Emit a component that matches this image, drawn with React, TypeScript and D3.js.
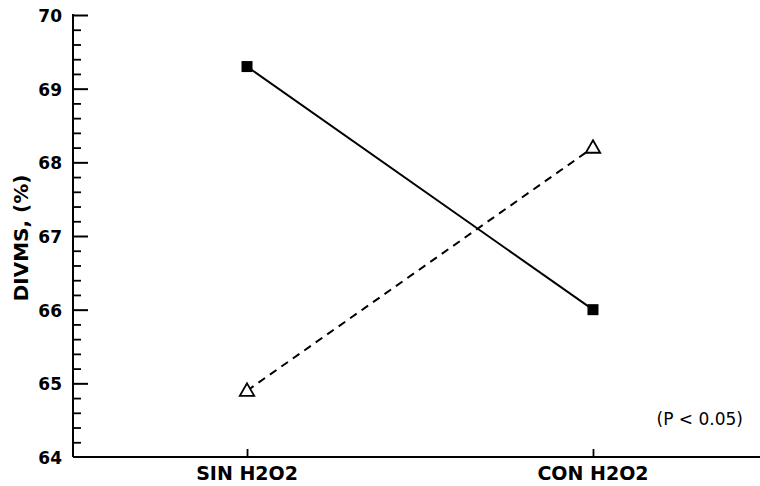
import { useEffect, useRef } from "react";
import * as d3 from "d3";

const categories = ["SIN H2O2", "CON H2O2"];
const solidValues = [69.3, 66.0];
const dashedValues = [64.9, 68.2];
const yTicks = [64, 65, 66, 67, 68, 69, 70];
const yLabel = "DIVMS, (%)";
const note = "(P < 0.05)";

export default function App() {
  const ref = useRef<SVGSVGElement>(null);

  useEffect(() => {
    const svg = d3.select(ref.current);
    svg.selectAll("*").remove();

    const width = 760;
    const height = 486;
    const margin = { top: 15, left: 73, bottom: 29 };

    const y = d3
      .scaleLinear()
      .domain([64, 70])
      .range([height - margin.bottom, margin.top]);

    const x = d3
      .scalePoint<string>()
      .domain(categories)
      .range([margin.left, 767])
      .padding(0.503);

    const font = "'DejaVu Sans', sans-serif";

    // y axis: minor ticks every 0.2, major every 1
    const minor = d3
      .range(64, 70.001, 0.2)
      .filter((v) => Math.abs(v - Math.round(v)) > 0.01);

    const minorAxis = svg
      .append("g")
      .attr("transform", `translate(${margin.left},0)`)
      .call(
        d3
          .axisRight(y)
          .tickValues(minor)
          .tickSize(8)
          .tickSizeOuter(0)
          .tickFormat(() => "")
      );
    minorAxis.select(".domain").remove();
    minorAxis.selectAll("line").attr("stroke", "#000").attr("stroke-width", 1.8);

    const majorAxis = svg
      .append("g")
      .attr("transform", `translate(${margin.left},0)`)
      .call(
        d3
          .axisRight(y)
          .tickValues(yTicks.filter((d) => d !== 64))
          .tickSize(15)
          .tickSizeOuter(0)
          .tickFormat(() => "")
      );
    majorAxis.select(".domain").remove();
    majorAxis.selectAll("line").attr("stroke", "#000").attr("stroke-width", 2);

    const yLine = svg.append("g").attr("transform", `translate(${margin.left},0)`);
    yLine
      .append("line")
      .attr("y1", y(70) - 1)
      .attr("y2", y(64))
      .attr("stroke", "#000")
      .attr("stroke-width", 2);

    yLine
      .selectAll("text")
      .data(yTicks)
      .join("text")
      .attr("x", -11)
      .attr("y", (d) => y(d) + 7)
      .attr("text-anchor", "end")
      .attr("font-family", font)
      .attr("font-weight", "bold")
      .attr("font-size", 17)
      .text((d) => d);

    svg
      .append("text")
      .attr("transform", `translate(28,${(y(64) + y(70)) / 2 + 2}) rotate(-90)`)
      .attr("text-anchor", "middle")
      .attr("font-family", font)
      .attr("font-weight", "bold")
      .attr("font-size", 20)
      .text(yLabel);

    // x axis
    const xAxis = svg
      .append("g")
      .attr("transform", `translate(0,${y(64)})`)
      .call(d3.axisTop(x).tickSize(8).tickSizeOuter(0).tickFormat(() => ""));
    xAxis.select(".domain").remove();
    xAxis.selectAll("line").attr("stroke", "#000").attr("stroke-width", 1.8);

    svg
      .append("line")
      .attr("x1", margin.left)
      .attr("x2", width)
      .attr("y1", y(64))
      .attr("y2", y(64))
      .attr("stroke", "#000")
      .attr("stroke-width", 2);

    svg
      .append("g")
      .selectAll("text")
      .data(categories)
      .join("text")
      .attr("x", (d) => x(d)!)
      .attr("y", 480)
      .attr("text-anchor", "middle")
      .attr("font-family", font)
      .attr("font-weight", "bold")
      .attr("font-size", 19)
      .text((d) => d);

    // lines
    const line = d3
      .line<number>()
      .x((_, i) => x(categories[i])!)
      .y((d) => y(d));

    svg
      .append("path")
      .attr("d", line(solidValues))
      .attr("fill", "none")
      .attr("stroke", "#000")
      .attr("stroke-width", 2);

    svg
      .append("path")
      .attr("d", line(dashedValues))
      .attr("fill", "none")
      .attr("stroke", "#000")
      .attr("stroke-width", 2)
      .attr("stroke-dasharray", "8,6");

    svg
      .selectAll("rect.pt")
      .data(solidValues)
      .join("rect")
      .attr("class", "pt")
      .attr("x", (_, i) => x(categories[i])! - 5.5)
      .attr("y", (d) => y(d) - 5.5)
      .attr("width", 11)
      .attr("height", 11)
      .attr("fill", "#000");

    const tri = d3.symbol().type(d3.symbolTriangle).size(90);
    svg
      .selectAll("path.tri")
      .data(dashedValues)
      .join("path")
      .attr("class", "tri")
      .attr("d", tri)
      .attr("transform", (d, i) => `translate(${x(categories[i])},${y(d) + 1})`)
      .attr("fill", "#fff")
      .attr("stroke", "#000")
      .attr("stroke-width", 1.8);

    svg
      .append("text")
      .attr("x", 743)
      .attr("y", 425)
      .attr("text-anchor", "end")
      .attr("font-family", font)
      .attr("font-size", 17)
      .text(note);
  }, []);

  return (
    <svg
      ref={ref}
      width={760}
      height={486}
      style={{ position: "absolute", left: 0, top: 0, background: "#fff" }}
    ></svg>
  );
}
